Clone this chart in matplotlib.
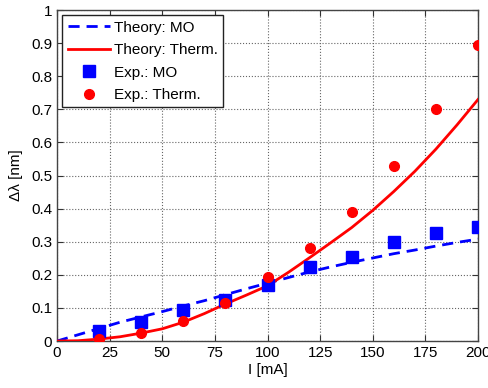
import matplotlib
matplotlib.use("Agg")
import matplotlib.pyplot as plt
import numpy as np

plt.rcParams['font.family'] = ['Liberation Sans', 'DejaVu Sans']

# Experimental data
exp_x = [20, 40, 60, 80, 100, 120, 140, 160, 180, 200]
exp_mo = [0.030, 0.058, 0.095, 0.125, 0.168, 0.225, 0.255, 0.298, 0.325, 0.345]
exp_therm = [0.005, 0.023, 0.060, 0.115, 0.195, 0.280, 0.390, 0.530, 0.700, 0.895]

# Theory curves
th_x = [0, 10, 20, 30, 40, 50, 60, 70, 80, 90, 100, 110, 120, 130, 140, 150, 160, 170, 180, 190, 200]
th_mo = [0.0, 0.019, 0.038, 0.057, 0.073, 0.089, 0.106, 0.122, 0.140, 0.158, 0.175,
         0.192, 0.209, 0.224, 0.238, 0.251, 0.264, 0.275, 0.287, 0.298, 0.308]
th_therm = [0.0, 0.001, 0.006, 0.013, 0.024, 0.037, 0.057, 0.083, 0.112, 0.139, 0.167,
            0.208, 0.252, 0.297, 0.343, 0.395, 0.452, 0.513, 0.580, 0.653, 0.730]

xticks = [0, 25, 50, 75, 100, 125, 150, 175, 200]
yticks = [0, 0.1, 0.2, 0.3, 0.4, 0.5, 0.6, 0.7, 0.8, 0.9, 1]
yticklabels = ['0', '0.1', '0.2', '0.3', '0.4', '0.5', '0.6', '0.7', '0.8', '0.9', '1']

fig = plt.figure(figsize=(4.89, 3.88), dpi=100)
ax = fig.add_axes([0.1166, 0.121, 0.861, 0.853])

ax.plot(th_x, th_mo, color='#0000ff', lw=2, ls=(0, (4, 2.5)), label='Theory: MO', zorder=3)
ax.plot(th_x, th_therm, color='#ff0000', lw=2, ls='-', label='Theory: Therm.', zorder=3)
ax.plot(exp_x, exp_mo, ls='none', marker='s', ms=8, color='#0000ff', label='Exp.: MO', zorder=4)
ax.plot(exp_x, exp_therm, ls='none', marker='o', ms=7, color='#ff0000', label='Exp.: Therm.', zorder=4)

ax.set_xlim(0, 200)
ax.set_ylim(0, 1)
ax.set_xticks(xticks)
ax.set_yticks(yticks)
ax.set_yticklabels(yticklabels)
ax.tick_params(direction='in', top=True, right=True, labelsize=11, length=4, color='#333333')
ax.grid(True, ls=':', color='#666666', lw=0.8)
for s in ax.spines.values():
    s.set_color('#444444')
    s.set_linewidth(1.0)

ax.set_xlabel('I [mA]', fontsize=11, labelpad=2)
ax.set_ylabel('Δλ [nm]', fontsize=11, labelpad=6)

leg = ax.legend(loc='upper left', fontsize=11, frameon=True, fancybox=False,
                edgecolor='#222222', framealpha=1, handlelength=2.8,
                borderpad=0.35, labelspacing=0.55, handletextpad=0.2,
                borderaxespad=0.35)
leg.get_frame().set_linewidth(1.0)

fig.savefig('out.png', dpi=100)
